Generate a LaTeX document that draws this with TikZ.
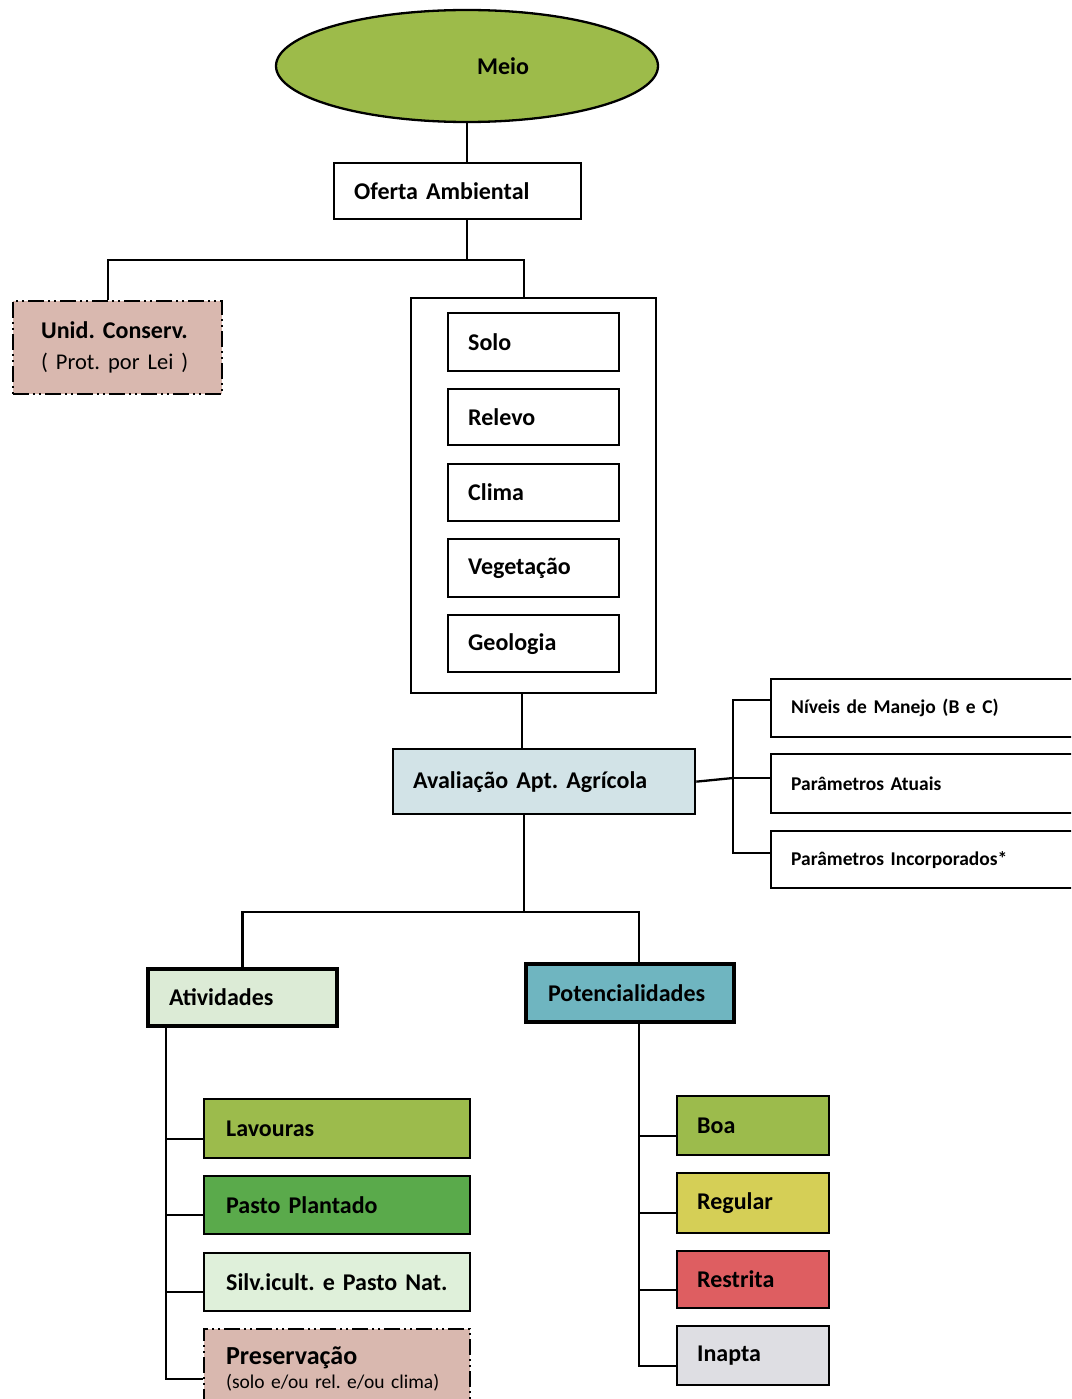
\documentclass[tikz,border=0pt]{standalone}
\usepackage{fontspec}
\setmainfont{Carlito}
\usepackage{xcolor}
\definecolor{meiogreen}{HTML}{9DBB4A}
\definecolor{rosa}{HTML}{D9B8AF}
\definecolor{avalblue}{HTML}{D2E3E7}
\definecolor{ativgreen}{HTML}{DCEBD6}
\definecolor{potblue}{HTML}{6FB5C0}
\definecolor{lavgreen}{HTML}{9CBB4C}
\definecolor{pastogreen}{HTML}{5AAA4B}
\definecolor{silvgreen}{HTML}{DFF0DA}
\definecolor{regyellow}{HTML}{D5CF56}
\definecolor{restred}{HTML}{DE5E61}
\definecolor{inapgray}{HTML}{DEDEE3}
\usepackage{tikz}
\usetikzlibrary{shapes.geometric}
\frenchspacing

\begin{document}
\begin{tikzpicture}[x=1pt, y=-1pt,
    cell/.style={rectangle, draw=black, line width=2.3pt, anchor=north west, align=left, inner xsep=20pt, inner ysep=0pt, font=\bfseries\fontsize{24}{28}\selectfont},
    side/.style={cell, font=\bfseries\fontsize{19.5}{24}\selectfont},
    chief/.style={cell, line width=4pt},
    legal/.style={cell, fill=rosa, dash pattern=on 16pt off 4pt on 2pt off 4pt on 2pt off 4pt},
    link/.style={line width=2.3pt}
  ]
    \useasboundingbox (0,0) rectangle (1071,1399);
    \clip (0,0) rectangle (1071,1399);

    \node[ellipse, draw=black, line width=2.3pt, fill=meiogreen, minimum width=382pt, minimum height=112pt, font=\bfseries\fontsize{24}{28}\selectfont] (meio) at (467,66) {\hspace*{72pt}Meio};
    \node[cell, text width=207pt, minimum height=56pt] (oferta) at (333,162) {Oferta Ambiental};

    \node[legal, text width=165pt, inner xsep=22pt, minimum height=93pt, font=\fontsize{24}{31}\selectfont] (unid) at (12,300) {\hspace*{6pt}\textbf{Unid. Conserv.}\\\hspace*{6pt}{\fontsize{22.5}{31}\selectfont( Prot. por Lei )}};

    \node[cell, text width=205pt, minimum height=395pt] (grupo) at (410,297) {};
    \node[cell, text width=131pt, minimum height=58pt] (solo) at (447,312) {Solo};
    \node[cell, text width=131pt, minimum height=56pt] (relevo) at (447,388) {Relevo};
    \node[cell, text width=131pt, minimum height=57pt] (clima) at (447,463) {Clima};
    \node[cell, text width=131pt, minimum height=58pt] (veg) at (447,538) {Vegetação};
    \node[cell, text width=131pt, minimum height=57pt] (geo) at (447,614) {Geologia};

    \node[cell, fill=avalblue, text width=262pt, minimum height=65pt] (aval) at (392,748) {Avaliação Apt. Agrícola};

    \node[side, text width=300pt, minimum height=58pt] (niveis) at (770,678) {Níveis de Manejo (B e C)};
    \node[side, text width=300pt, minimum height=59pt] (atuais) at (770,753) {Parâmetros Atuais};
    \node[side, text width=300pt, minimum height=57pt] (incorp) at (770,830) {Parâmetros Incorporados*};

    \node[chief, fill=ativgreen, text width=147pt, inner xsep=21pt, minimum height=57pt] (ativ) at (146,967) {Atividades};
    \node[chief, fill=potblue, text width=164pt, inner xsep=22pt, minimum height=58pt] (potenc) at (524,962) {Potencialidades};

    \node[cell, fill=lavgreen, text width=222pt, inner xsep=22pt, minimum height=59pt] (lav) at (203,1098) {Lavouras};
    \node[cell, fill=pastogreen, text width=222pt, inner xsep=22pt, minimum height=58pt] (pasto) at (203,1175) {Pasto Plantado};
    \node[cell, fill=silvgreen, text width=222pt, inner xsep=22pt, minimum height=58pt] (silv) at (203,1252) {Silv.icult. e Pasto Nat.};
    \node[legal, text width=222pt, inner xsep=22pt, minimum height=80pt, font=\fontsize{19.5}{24}\selectfont] (pres) at (203,1328) {{\bfseries\fontsize{26}{30}\selectfont Preservação}\\(solo e/ou rel. e/ou clima)};

    \node[cell, fill=lavgreen, text width=112pt, minimum height=59pt] (boa) at (676,1095) {Boa};
    \node[cell, fill=regyellow, text width=112pt, minimum height=60pt] (reg) at (676,1172) {Regular};
    \node[cell, fill=restred, text width=112pt, minimum height=57pt] (rest) at (676,1250) {Restrita};
    \node[cell, fill=inapgray, text width=112pt, minimum height=59pt] (inap) at (676,1325) {Inapta};

    \coordinate (ramo1) at (467,260);
    \coordinate (saida) at ([xshift=-12pt]grupo.south);
    \coordinate (ramo2) at (524,912);
    \coordinate (eixo) at (733,778);
    \coordinate (tronco1) at ([xshift=20pt]ativ.south west);
    \coordinate (tronco2) at ([xshift=9pt]potenc.south);

    \draw[link] (meio.south) -- (meio.south |- oferta.north);
    \draw[link] (meio.south |- oferta.south) -- (ramo1);
    \draw[link] (ramo1) -| ([xshift=-10pt]unid.north);
    \draw[link] (ramo1) -| ([xshift=-10pt]grupo.north);
    \draw[link] (saida) -- (saida |- aval.north);

    \draw[link] (aval.east) -- (eixo);
    \draw[link] ([yshift=8pt]niveis.west) -| (eixo) |- ([yshift=7pt]incorp.west);
    \draw[link] (eixo) -- (eixo -| atuais.west);

    \draw[link] (aval.south -| ramo2) -- (ramo2);
    \draw[link] (ramo2) -| (ativ.north);
    \draw[link] (ramo2) -| ([xshift=9pt]potenc.north);

    \foreach \n in {lav,pasto,silv,pres}
      \draw[link] (tronco1) |- ([yshift=-10pt]\n.west);
    \foreach \n in {boa,reg,rest,inap}
      \draw[link] (tronco2) |- ([yshift=-10pt]\n.west);
  \end{tikzpicture}
\end{document}
